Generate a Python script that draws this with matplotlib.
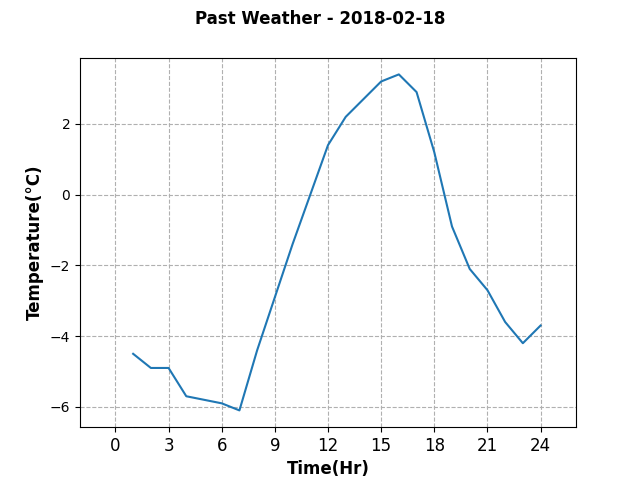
import matplotlib
matplotlib.use("Agg")
import matplotlib.pyplot as plt

hours = list(range(1, 25))
temps = [-4.5, -4.9, -4.9, -5.7, -5.8, -5.9, -6.1, -4.4, -2.9, -1.4, 0.0, 1.4,
         2.2, 2.7, 3.2, 3.4, 2.9, 1.2, -0.9, -2.1, -2.7, -3.6, -4.2, -3.7]
xticks = list(range(0, 25, 3))

fig, ax = plt.subplots(figsize=(6.4, 4.8), dpi=100)
ax.plot(hours, temps, color="#1f77b4")
ax.set_xlim(-2, 26)
ax.set_xticks(xticks)
ax.tick_params(axis="x", labelsize=12)
ax.grid(True, linestyle="--")
ax.set_xlabel("Time(Hr)", fontsize=12, fontweight="bold")
ax.set_ylabel("Temperature(°C)", fontsize=12, fontweight="bold")
fig.suptitle("Past Weather - 2018-02-18", fontsize=12, fontweight="bold")
fig.savefig("out.png")
